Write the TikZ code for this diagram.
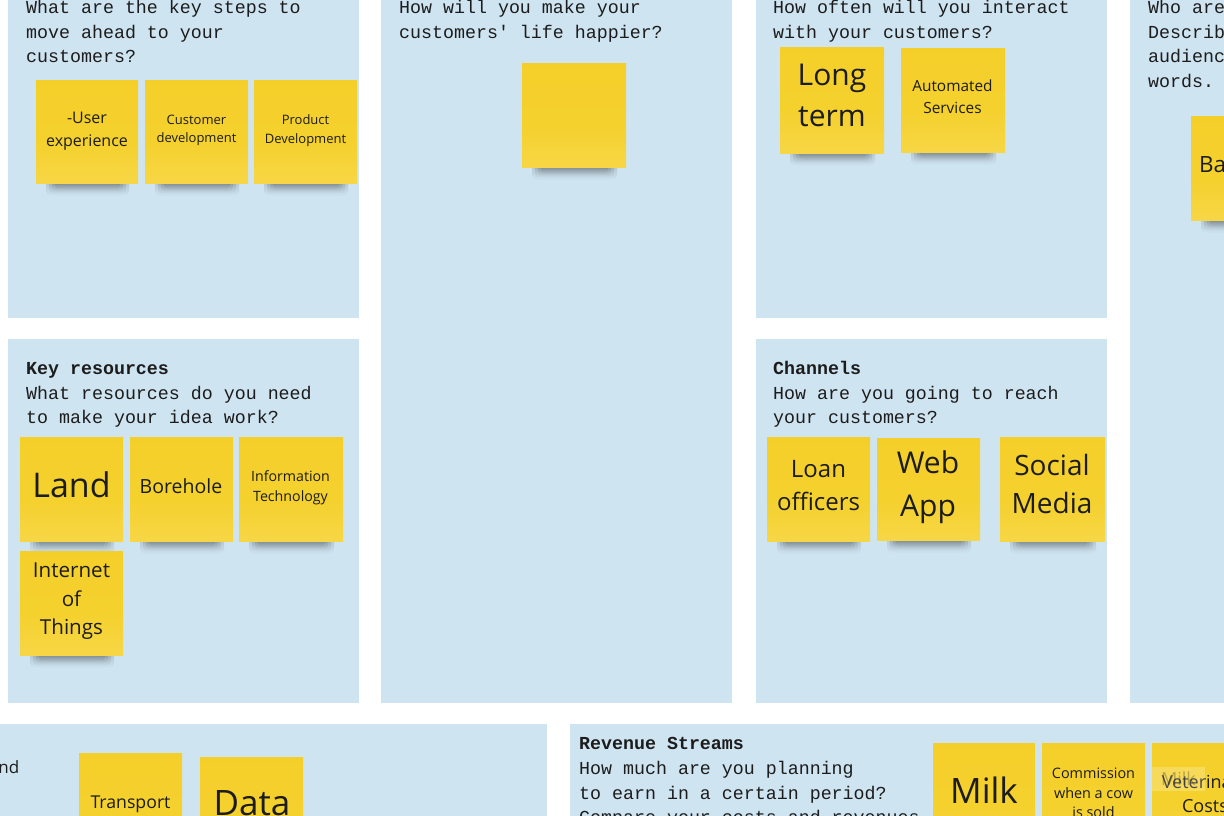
\documentclass[tikz,border=0pt]{standalone}
\usepackage{fontspec}
\usetikzlibrary{fadings}
\setmainfont{Open Sans}
\newfontfamily\monof{Liberation Mono}
\definecolor{panel}{HTML}{CFE4F1}
\definecolor{ntop}{HTML}{F4CE27}
\definecolor{nmid}{HTML}{F5D12E}
\definecolor{nbot}{HTML}{F7DA55}
\definecolor{ink}{HTML}{1C1C1C}
\pgfdeclareverticalshading{notesh}{100bp}{color(0bp)=(nbot); color(25bp)=(nbot!60!nmid); color(45bp)=(nmid); color(100bp)=(ntop)}
\newcommand\stick[5]{%
  \foreach \i in {0,1,2,3}{%
    \fill[black, opacity=0.17, rounded corners=5pt, path fading=south]
      ({#2+10+3*\i},{#3+#5-5}) rectangle ({#2+#4-9-3*\i},{#3+#5+13-2*\i});}
  \node[note, minimum width=#4pt, minimum height=#5pt, anchor=north west] (#1) at (#2,#3) {};
}
\newcommand\fs[2]{\fontsize{#1}{#2}\selectfont}
\begin{document}
\begin{tikzpicture}[x=1pt,y=-1pt,
  panelbox/.style={fill=panel},
  note/.style={draw=none, inner sep=0pt, shading=notesh},
  mono/.style={anchor=base west, inner sep=0pt, text=ink, font=\monof\fs{18.3}{24.5}},
  monob/.style={mono, font=\monof\bfseries\fs{18.3}{24.5}},
  ntext/.style={text=ink, align=center, inner sep=0pt}]
\useasboundingbox (0,0) rectangle (1224,816);
\fill[white] (0,0) rectangle (1224,816);
% panels
\fill[panelbox] (8,-10) rectangle (359,318);
\fill[panelbox] (381,-10) rectangle (732,703);
\fill[panelbox] (756,-10) rectangle (1107,318);
\fill[panelbox] (1130,-10) rectangle (1250,703);
\fill[panelbox] (8,339) rectangle (359,703);
\fill[panelbox] (756,339) rectangle (1107,703);
\fill[panelbox] (-10,724) rectangle (547,840);
\fill[panelbox] (570,724) rectangle (1250,840);

% panel texts
\node[mono] (q1a) at (26,14) {What are the key steps to};
\node[mono] (q1b) at (26,38.5) {move ahead to your};
\node[mono] (q1c) at (26,63) {customers?};
\node[mono] (q2a) at (399,14) {How will you make your};
\node[mono] (q2b) at (399,38.5) {customers' life happier?};
\node[mono] (q3a) at (773,14) {How often will you interact};
\node[mono] (q3b) at (773,38.5) {with your customers?};
\node[mono] (q4a) at (1148,14) {Who are};
\node[mono] (q4b) at (1148,38.5) {Describ};
\node[mono] (q4c) at (1148,63) {audienc};
\node[mono] (q4d) at (1148,87.5) {words.};
\node[monob] (h5) at (26,374.5) {Key resources};
\node[mono] (q5a) at (26,399) {What resources do you need};
\node[mono] (q5b) at (26,423) {to make your idea work?};
\node[monob] (h6) at (773,374.5) {Channels};
\node[mono] (q6a) at (773,399) {How are you going to reach};
\node[mono] (q6b) at (773,423) {your customers?};
\node[monob] (h8) at (579,749.5) {Revenue Streams};
\node[mono] (q8a) at (579,774) {How much are you planning};
\node[mono] (q8b) at (579,799) {to earn in a certain period?};
\node[mono] (q8c) at (579,823.5) {Compare your costs and revenues};
\node[anchor=base east, inner sep=0pt, text=ink, font=\fs{17}{22}] (q7) at (19.5,773) {nd};

% sticky notes
\stick{s1}{36}{80}{102}{103}
\stick{s2}{145}{80}{103}{103}
\stick{s3}{254}{80}{103}{103}
\stick{s4}{522}{63}{104}{104}
\stick{s5}{780}{47}{104}{106}
\stick{s6}{901}{48}{104}{104}
\stick{s7}{1191}{116}{104}{104}
\stick{s8}{20}{437}{103}{104}
\stick{s9}{130}{437}{103}{104}
\stick{s10}{239}{437}{104}{104}
\stick{s11}{20}{551}{103}{104}
\stick{s12}{767}{437}{103}{104}
\stick{s13}{877}{438}{103}{102}
\stick{s14}{1000}{437}{105}{104}
\stick{s15}{79}{753}{103}{104}
\stick{s16}{200}{757}{103}{104}
\stick{s17}{933}{743}{102}{104}
\stick{s18}{1042}{743}{103}{104}
\stick{s19}{1152}{743}{104}{104}

% note texts
\node[ntext, font=\fs{16}{23}] (t1) at (87,131) {-User\\experience};
\node[ntext, font=\fs{13}{18.5}] (t2) at (196.5,130.5) {Customer\\development};
\node[ntext, font=\fs{13}{18.5}] (t3) at (305.5,130.5) {Product\\Development};
\node[ntext, font=\fs{30}{41}] (t5) at (832,95.5) {Long\\term};
\node[ntext, font=\fs{15.4}{22}] (t6) at (952.5,96.5) {Automated\\Services};
\node[ntext, anchor=west, font=\fs{22.4}{30}] (t7) at (1199,165) {Ba};
\node[ntext, font=\fs{34}{40}] (t8) at (71.5,485) {Land};
\node[ntext, font=\fs{19.5}{26}] (t9) at (181,486.5) {Borehole};
\node[ntext, font=\fs{14.2}{20}] (t10) at (290.5,488) {Information\\Technology};
\node[ntext, font=\fs{20.6}{28.5}] (t11) at (71.5,601.5) {Internet\\of\\Things};
\node[ntext, font=\fs{24}{33}] (t12) at (818.5,486) {Loan\\officers};
\node[ntext, font=\fs{30}{43}] (t13) at (928,487) {Web\\App};
\node[ntext, font=\fs{28}{38.5}] (t14) at (1052,484) {Social\\Media};
\node[ntext, font=\fs{17.7}{22}] (t15) at (130.5,804) {Transport};
\node[ntext, font=\fs{35}{40}] (t16) at (252,803) {Data};
\node[ntext, font=\fs{35}{40}] (t17) at (984,790) {Milk};
\node[ntext, font=\fs{14.4}{19.5}] (t18) at (1093.5,793) {Commission\\when a cow\\is sold};
\node[ntext, font=\fs{18}{24}] (t19) at (1205,794) {Veterinary\\Costs};
\node[fill=white, fill opacity=0.22, text opacity=0.25, text=black, font=\fs{18}{20},
      minimum width=53pt, minimum height=24pt, inner sep=0pt] (ghost) at (1178.5,779) {Milk};
\end{tikzpicture}
\end{document}
